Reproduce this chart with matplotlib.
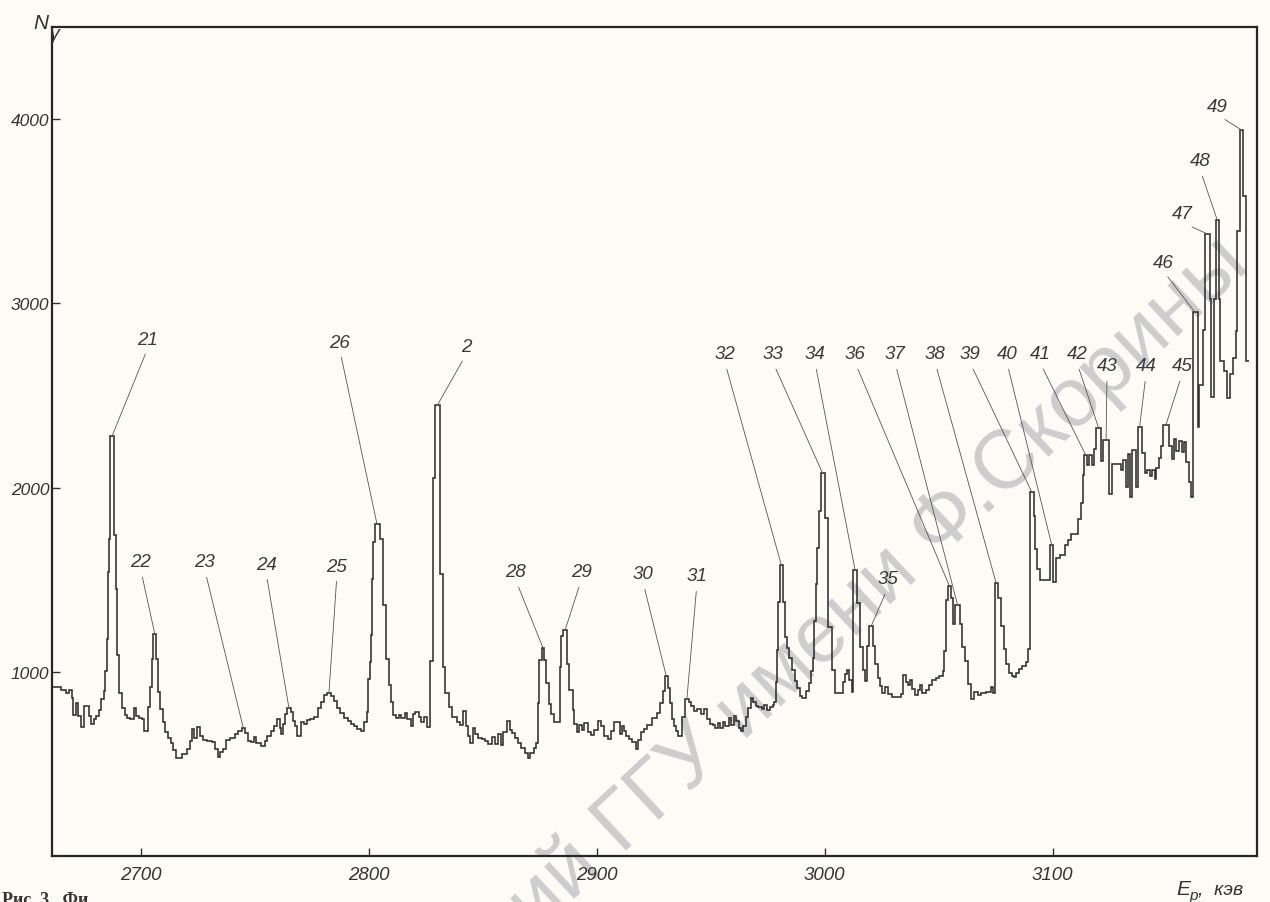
import matplotlib
matplotlib.use('Agg')
import matplotlib.pyplot as plt
import numpy as np
from matplotlib import font_manager as fm

# ---------------- data ----------------
# left edges of the histogram steps (keV); last value = end of last step
step_energy = [
    2661.0, 2664.8, 2667.0, 2668.5, 2669.6, 2670.4, 2671.4, 2672.5, 2673.6, 2675.0,
    2677.2, 2678.3, 2679.4, 2680.4, 2681.5, 2682.7, 2683.7, 2684.4, 2685.0, 2685.6,
    2686.0, 2686.6, 2688.3, 2689.0, 2689.7, 2690.5, 2691.5, 2693.0, 2694.0, 2695.3,
    2697.0, 2698.0, 2699.0, 2700.5, 2701.5, 2703.3, 2704.2, 2704.8, 2705.5, 2706.7,
    2707.5, 2708.5, 2709.5, 2710.5, 2711.7, 2713.0, 2714.2, 2715.2, 2718.0, 2720.4,
    2721.5, 2722.5, 2723.4, 2724.8, 2726.0, 2727.4, 2729.0, 2731.0, 2732.5, 2733.8,
    2734.6, 2736.0, 2737.5, 2739.0, 2741.3, 2742.7, 2744.3, 2745.6, 2746.9, 2748.3,
    2749.7, 2750.7, 2752.6, 2754.4, 2755.5, 2757.0, 2758.4, 2759.9, 2760.9, 2761.6,
    2762.4, 2763.4, 2764.2, 2765.7, 2766.7, 2767.4, 2768.6, 2770.3, 2771.5, 2772.9,
    2774.0, 2776.1, 2777.6, 2778.8, 2780.2, 2781.7, 2783.4, 2784.6, 2786.0, 2787.5,
    2788.9, 2790.7, 2792.1, 2793.3, 2795.0, 2796.5, 2797.9, 2799.1, 2799.6, 2800.4,
    2801.0, 2801.5, 2802.0, 2802.6, 2804.7, 2806.3, 2807.6, 2808.9, 2809.8, 2810.7,
    2811.7, 2813.2, 2814.2, 2815.7, 2816.8, 2818.3, 2819.4, 2820.4, 2821.9, 2822.9,
    2824.1, 2825.5, 2826.7, 2828.2, 2829.1, 2831.3, 2832.4, 2833.5, 2835.2, 2836.6,
    2838.6, 2840.1, 2841.5, 2842.7, 2843.7, 2844.4, 2845.6, 2846.6, 2848.0, 2849.5,
    2850.9, 2852.4, 2853.9, 2855.3, 2856.8, 2857.8, 2858.9, 2860.4, 2861.8, 2863.0,
    2864.0, 2865.5, 2866.9, 2868.4, 2869.8, 2870.6, 2872.3, 2873.5, 2874.1, 2874.8,
    2875.8, 2877.0, 2877.9, 2878.9, 2880.0, 2881.2, 2883.7, 2884.1, 2885.2, 2887.0,
    2887.9, 2889.4, 2890.2, 2891.2, 2892.3, 2893.5, 2894.5, 2896.0, 2897.4, 2898.9,
    2900.3, 2901.8, 2903.2, 2904.7, 2906.1, 2907.6, 2910.1, 2911.2, 2912.0, 2913.0,
    2914.1, 2915.6, 2917.0, 2918.2, 2919.2, 2920.7, 2922.1, 2924.3, 2926.5, 2927.9,
    2929.1, 2929.9, 2931.2, 2932.3, 2933.0, 2933.8, 2934.8, 2935.7, 2937.2, 2938.6,
    2940.4, 2941.5, 2942.5, 2944.0, 2945.5, 2946.9, 2948.4, 2949.8, 2950.8, 2952.0,
    2953.1, 2954.2, 2955.2, 2956.3, 2957.8, 2959.0, 2960.0, 2961.0, 2962.2, 2963.3,
    2964.3, 2965.3, 2966.5, 2967.7, 2968.7, 2969.7, 2970.9, 2972.3, 2973.3, 2974.5,
    2975.9, 2977.4, 2977.9, 2978.4, 2978.9, 2979.5, 2980.3, 2981.8, 2982.6, 2983.5,
    2984.5, 2985.6, 2986.8, 2988.0, 2989.0, 2990.0, 2991.6, 2993.1, 2994.1, 2994.8,
    2995.3, 2996.0, 2996.6, 2997.4, 2998.2, 2999.9, 3001.6, 3003.0, 3004.4, 3007.9,
    3008.9, 3009.8, 3010.8, 3011.8, 3012.3, 3014.3, 3015.6, 3016.6, 3017.6, 3018.7,
    3019.5, 3021.2, 3022.2, 3023.2, 3024.2, 3024.9, 3026.4, 3027.8, 3029.3, 3033.6,
    3034.4, 3035.5, 3036.6, 3037.3, 3038.4, 3039.5, 3040.9, 3041.6, 3042.8, 3044.2,
    3045.7, 3047.2, 3048.9, 3050.3, 3051.8, 3052.5, 3053.2, 3053.9, 3055.5, 3056.4,
    3057.2, 3059.3, 3060.3, 3061.6, 3062.8, 3064.1, 3065.6, 3067.1, 3068.5, 3070.7,
    3072.9, 3073.9, 3074.5, 3075.9, 3077.2, 3078.4, 3079.7, 3080.9, 3082.0, 3083.0,
    3083.8, 3085.2, 3086.7, 3088.1, 3089.2, 3090.0, 3091.7, 3092.4, 3093.0, 3094.5,
    3098.9, 3100.3, 3101.6, 3103.0, 3105.4, 3106.8, 3108.2, 3111.0, 3112.5, 3113.1,
    3113.9, 3115.0, 3116.1, 3117.3, 3118.2, 3119.0, 3121.2, 3122.0, 3124.8, 3125.8,
    3130.1, 3130.7, 3132.1, 3132.8, 3133.8, 3134.6, 3136.7, 3137.3, 3139.0, 3140.3,
    3141.3, 3142.5, 3143.6, 3144.7, 3145.5, 3146.6, 3147.7, 3148.5, 3150.9, 3152.1,
    3153.0, 3153.9, 3155.2, 3156.5, 3157.4, 3158.6, 3159.9, 3160.8, 3161.4, 3163.5,
    3164.3, 3166.1, 3166.7, 3169.0, 3169.6, 3170.8, 3171.5, 3172.9, 3173.5, 3175.1,
    3176.6, 3177.7, 3179.2, 3180.2, 3181.0, 3182.0, 3183.6, 3184.6, 3186.0,
]

# counts N_gamma in each step
counts = [
    920, 902, 884, 902, 858, 768, 831, 760, 698, 815,
    760, 717, 744, 760, 790, 854, 898, 1006, 1180, 1542,
    1721, 2281, 1741, 1452, 1091, 884, 804, 768, 750, 742,
    804, 761, 750, 742, 681, 807, 915, 1069, 1205, 1069,
    890, 800, 728, 674, 638, 612, 576, 532, 551, 583,
    622, 687, 643, 698, 653, 630, 622, 619, 583, 539,
    567, 583, 627, 641, 660, 679, 696, 665, 622, 621,
    648, 613, 595, 623, 650, 678, 705, 742, 697, 661,
    715, 770, 806, 780, 735, 708, 654, 727, 718, 736,
    746, 756, 801, 838, 874, 887, 866, 839, 804, 777,
    751, 733, 716, 707, 690, 681, 726, 780, 962, 1052,
    1197, 1504, 1702, 1800, 1721, 1361, 1072, 928, 838, 767,
    748, 767, 749, 777, 741, 706, 769, 779, 752, 726,
    753, 699, 1060, 2054, 2450, 1531, 1027, 883, 811, 757,
    730, 712, 785, 704, 650, 615, 696, 660, 643, 634,
    626, 608, 644, 609, 663, 601, 673, 731, 683, 665,
    638, 612, 586, 559, 532, 560, 587, 614, 831, 1066,
    1129, 1066, 941, 824, 770, 725, 1024, 1195, 1227, 1043,
    899, 791, 719, 674, 711, 684, 721, 675, 658, 686,
    731, 705, 651, 633, 679, 726, 662, 707, 681, 654,
    636, 619, 583, 628, 674, 692, 711, 748, 775, 830,
    894, 975, 912, 831, 741, 706, 679, 652, 752, 851,
    834, 816, 789, 799, 772, 800, 746, 719, 710, 693,
    720, 693, 730, 703, 749, 713, 759, 732, 696, 678,
    706, 752, 806, 855, 834, 816, 807, 799, 817, 790,
    809, 818, 837, 945, 1117, 1378, 1577, 1379, 1190, 1127,
    1073, 1011, 948, 912, 867, 859, 895, 941, 1004, 1077,
    1275, 1474, 1673, 1871, 2079, 1837, 1241, 1007, 885, 945,
    990, 1009, 955, 892, 1551, 1371, 1137, 1011, 948, 1138,
    1247, 1139, 1040, 965, 923, 887, 915, 879, 861, 881,
    980, 945, 927, 954, 909, 874, 901, 929, 884, 903,
    930, 957, 967, 976, 1004, 1112, 1392, 1465, 1402, 1258,
    1365, 1259, 1133, 1061, 935, 854, 891, 873, 883, 892,
    920, 885, 1480, 1400, 1247, 1121, 1040, 995, 977, 969,
    996, 1014, 1033, 1051, 1124, 1975, 1846, 1666, 1558, 1496,
    1686, 1489, 1615, 1633, 1688, 1716, 1750, 1830, 1916, 2070,
    2178, 2125, 2179, 2125, 2207, 2324, 2144, 2260, 1965, 2130,
    2093, 2148, 2003, 2184, 1950, 2203, 2005, 2330, 2186, 2078,
    2097, 2061, 2097, 2044, 2107, 2161, 2225, 2342, 2226, 2154,
    2263, 2200, 2254, 2191, 2246, 2138, 2030, 1949, 2951, 2330,
    2556, 2854, 3377, 3026, 2494, 3026, 3451, 3026, 2685, 2631,
    2487, 2614, 2704, 2849, 3390, 3941, 3581, 2686,
]

x_ticks = [2700, 2800, 2900, 3000, 3100]
y_ticks = [1000, 2000, 3000, 4000]

# peak labels: text, label centre (E, N), leader tip (E, N)
peak_labels = ['21', '22', '23', '24', '25', '26', '2', '28', '29', '30', '31',
               '32', '33', '34', '35', '36', '37', '38', '39', '40', '41', '42',
               '43', '44', '45', '46', '47', '48', '49']
label_E = [2703.1, 2700.0, 2728.1, 2754.9, 2786.0, 2787.3, 2842.6, 2864.5, 2893.1,
           2920.3, 2943.9, 2956.2, 2977.3, 2995.7, 3027.7, 3013.3, 3030.8, 3048.4,
           3063.7, 3079.9, 3094.4, 3110.6, 3123.8, 3140.9, 3156.7, 3148.4, 3156.7,
           3164.6, 3172.1]
label_N = [2806, 1596, 1596, 1585, 1574, 2790, 2768, 1542, 1542, 1531, 1520,
           2725, 2725, 2725, 1504, 2725, 2725, 2725, 2725, 2725, 2725, 2725,
           2660, 2660, 2660, 3224, 3485, 3773, 4071]
tip_E = [2687.4, 2706.1, 2744.9, 2764.9, 2782.5, 2803.6, 2830.2, 2876.4, 2886.1,
         2930.5, 2939.5, 2981.0, 2999.0, 3013.3, 3020.3, 3054.7, 3058.2, 3075.2,
         3090.8, 3099.6, 3114.4, 3120.1, 3123.4, 3138.1, 3149.7, 3162.4, 3167.8,
         3172.2, 3182.8]
tip_N = [2281, 1205, 696, 806, 887, 1800, 2450, 1129, 1227, 975, 851, 1577, 2079,
         1551, 1247, 1465, 1365, 1480, 1975, 1686, 2178, 2324, 2260, 2330, 2342,
         2951, 3377, 3451, 3941]


def pick(cands):
    names = {f.name for f in fm.fontManager.ttflist}
    for c in cands:
        if c in names:
            return c
    return 'DejaVu Sans'


NARROW = pick(['Liberation Sans Narrow', 'Liberation Sans', 'DejaVu Sans'])
WM = pick(['Liberation Sans', 'DejaVu Sans'])
SERIF = pick(['Liberation Serif', 'DejaVu Serif'])

INK = '#2f2f2f'
W, H = 1270, 903

fig = plt.figure(figsize=(W / 100, H / 100), dpi=100, facecolor='#fcfbf6')

# watermark of the scanned source
fig.text(1252 / W, 1 - 268 / H, 'Репозиторий ГГУ имени Ф.Скорины',
         rotation=43, rotation_mode='anchor', ha='right', va='baseline',
         fontsize=60, color='#cdcdcd', family=WM, zorder=-1)

ax = fig.add_axes([52 / W, 1 - 857 / H, 1205 / W, 829 / H])
ax.set_facecolor('none')

ax.stairs(counts, step_energy, baseline=None, color=INK, lw=1.15, zorder=3)

ax.set_xlim(2661, 3189.6)
ax.set_ylim(0, 4500)
ax.set_xticks(x_ticks)
ax.set_yticks(y_ticks)
ax.tick_params(direction='in', length=6, width=1.0, colors='#333333')
ax.tick_params(axis='x', pad=7)
ax.tick_params(axis='y', pad=2)
for lab in ax.get_xticklabels():
    lab.set_fontsize(13.5)
for lab in ax.get_yticklabels():
    lab.set_fontsize(12.5)
for lab in ax.get_xticklabels() + ax.get_yticklabels():
    lab.set_fontstyle('italic')
    lab.set_family(NARROW)
    lab.set_color('#333333')
for sp in ax.spines.values():
    sp.set_linewidth(1.6)
    sp.set_color('#262626')

for t, lx, ly, tx, ty in zip(peak_labels, label_E, label_N, tip_E, tip_N):
    ax.annotate(t, xy=(tx, ty), xytext=(lx, ly), textcoords='data',
                ha='center', va='center', fontsize=13.5, fontstyle='italic',
                family=NARROW, color='#3a3a3a', zorder=4,
                arrowprops=dict(arrowstyle='-', color='#555555', lw=0.6,
                                shrinkA=3, shrinkB=0, relpos=(0.5, 0.0)))

# axis titles
fig.text(33 / W, 1 - 29 / H, 'N', fontsize=15, fontstyle='italic',
         family=NARROW, color='#333333', ha='left', va='baseline')
fig.text(50 / W, 1 - 39 / H, 'γ', fontsize=14, fontstyle='italic',
         family=NARROW, color='#333333', ha='left', va='baseline')
fig.text(1176 / W, 1 - 895 / H, 'E', fontsize=15, fontstyle='italic',
         family=NARROW, color='#333333', ha='left', va='baseline')
fig.text(1189 / W, 1 - 900 / H, 'p', fontsize=11, fontstyle='italic',
         family=NARROW, color='#333333', ha='left', va='baseline')
fig.text(1198 / W, 1 - 895 / H, ',  кэв', fontsize=14, fontstyle='italic',
         family=NARROW, color='#333333', ha='left', va='baseline')

# caption (cut off at bottom edge of the scan)
fig.text(2 / W, 1 - 905 / H, 'Рис. 3.  Фи', fontsize=13, fontweight='bold',
         family=SERIF, color='#333333', ha='left', va='baseline')

fig.savefig('out.png', dpi=100, facecolor=fig.get_facecolor())
